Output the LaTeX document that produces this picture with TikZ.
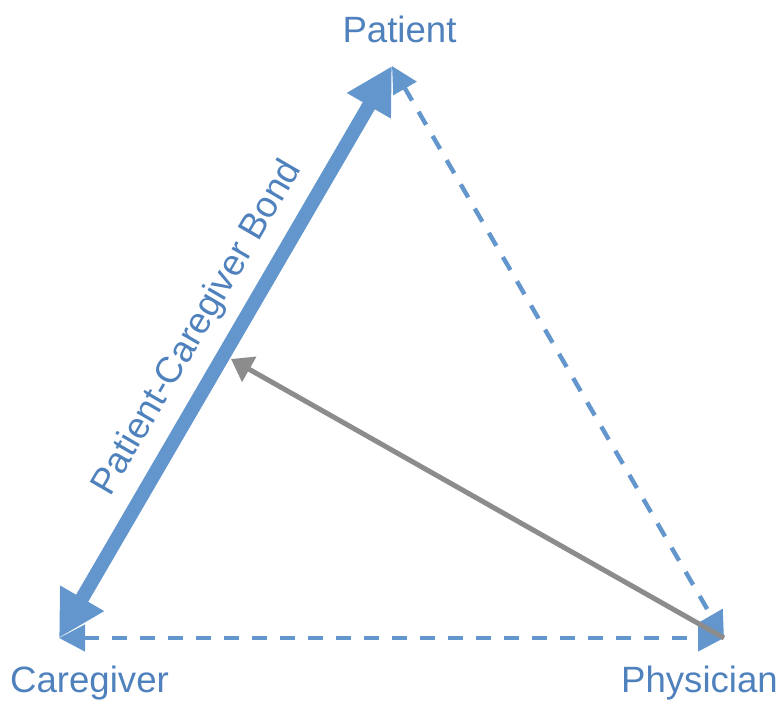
\documentclass[tikz,border=0pt]{standalone}
\usepackage{fontspec}
\setmainfont{Liberation Sans}
\usetikzlibrary{arrows.meta}

\definecolor{bondblue}{RGB}{99,150,204}
\definecolor{labelblue}{RGB}{79,129,189}
\definecolor{pullgray}{RGB}{140,140,140}

\begin{document}
\begin{tikzpicture}[
        x=0.5pt, y=-0.5pt,
        role/.style={text=labelblue, font=\fontsize{18.3}{22}\selectfont, inner sep=0pt, anchor=base},
        bond/.style={
            bondblue, line width=7pt,
            {Triangle[length=23pt,width=23.75pt]}-{Triangle[length=23pt,width=23.75pt]}
        },
        link/.style={
            bondblue, line width=2.2pt, dash pattern=on 7.5pt off 6.5pt,
            {Triangle[length=13pt,width=13pt]}-{Triangle[length=13pt,width=13pt]}
        },
        pull/.style={pullgray, line width=2.5pt, -{Triangle[length=10.5pt,width=14pt]}}
    ]
    \useasboundingbox (0,0) rectangle (778,702);
    \coordinate (patient) at (392,66);
    \coordinate (caregiver) at (59,638);
    \coordinate (physician) at (724,638);
    \coordinate (bondside) at (231,359);

    \node[role] (patientlabel) at (399.5,42) {Patient};
    \node[role] (caregiverlabel) at (89.5,692) {Caregiver};
    \node[role] (physicianlabel) at (699.5,692) {Physician};

    \draw[link] (patient) -- (physician);
    \draw[link] (caregiver) -- (physician);
    \draw[bond] (caregiver) -- (patient);
    \node[role, rotate=59.8] (bondlabel) at (206,333) {Patient-Caregiver Bond};
    \draw[pull] (physician) -- (bondside);
\end{tikzpicture}
\end{document}
